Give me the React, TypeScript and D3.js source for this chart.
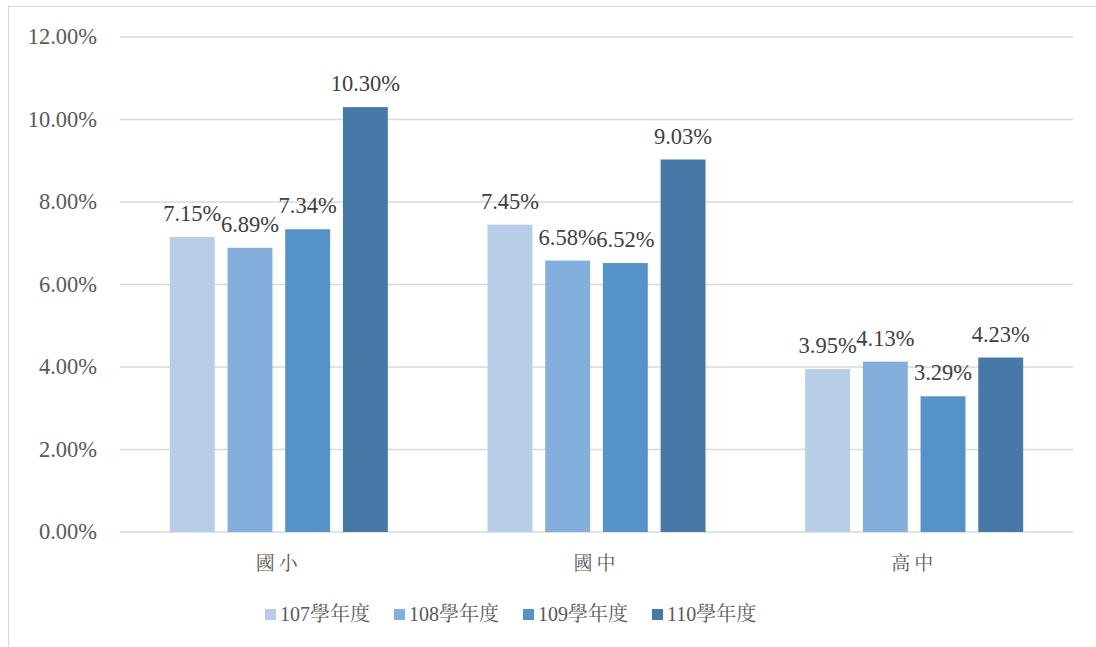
import React from "react";
import * as d3 from "d3";

const categories = ["國小", "國中", "高中"];
const seriesNames = ["107學年度", "108學年度", "109學年度", "110學年度"];
const values107 = [7.15, 7.45, 3.95];
const values108 = [6.89, 6.58, 4.13];
const values109 = [7.34, 6.52, 3.29];
const values110 = [10.3, 9.03, 4.23];
const yTicks = [0, 2, 4, 6, 8, 10, 12];
const colors = ["#B7CDE8", "#84AEDC", "#5592C8", "#4678A8"];

const seriesValues = [values107, values108, values109, values110];

const W = 1096;
const H = 647;
const margin = { left: 120, right: 23, top: 37, bottom: 115 };
const serif = "Liberation Serif, DejaVu Serif, serif";
const cjk = "Liberation Serif, Noto Serif CJK TC, Noto Sans CJK TC, serif";

export default function App() {
  const x0 = d3
    .scaleBand<string>()
    .domain(categories)
    .range([margin.left, W - margin.right])
    .paddingInner(0)
    .paddingOuter(0);
  const clusterW = 218;
  const x1 = d3
    .scaleBand<string>()
    .domain(seriesNames)
    .range([0, clusterW])
    .paddingInner(0.222)
    .paddingOuter(0);
  const y = d3.scaleLinear().domain([0, 12]).range([532, 37]);
  const fmt = (v: number) => v.toFixed(2) + "%";

  const legendX = [265, 394, 523, 652];

  return (
    <svg
      width={W}
      height={H}
      style={{ position: "absolute", left: 0, top: 0, background: "#fff" }}
    >
      <rect x={8.5} y={6.5} width={W + 10} height={H + 10} fill="#fff" stroke="#d9d9d9" strokeWidth={1} />
      {yTicks.map((t) => (
        <g key={t}>
          <line
            x1={margin.left}
            x2={W - margin.right}
            y1={y(t)}
            y2={y(t)}
            stroke="#d9d9d9"
            strokeWidth={1.3}
          />
          <text
            x={97}
            y={y(t)}
            dy="0.33em"
            textAnchor="end"
            style={{ fontFamily: serif, fontSize: 22.5 }}
            fill="#595959"
          >
            {t.toFixed(2) + "%"}
          </text>
        </g>
      ))}
      {categories.map((c, ci) => {
        const cx = (x0(c) as number) + x0.bandwidth() / 2;
        const start = cx - clusterW / 2;
        return (
          <g key={c}>
            {seriesNames.map((s, si) => {
              const v = seriesValues[si][ci];
              const bx = start + (x1(s) as number);
              return (
                <g key={s}>
                  <rect
                    x={bx}
                    y={y(v)}
                    width={x1.bandwidth()}
                    height={y(0) - y(v)}
                    fill={colors[si]}
                  />
                  <text
                    x={bx + x1.bandwidth() / 2}
                    y={y(v) - 16}
                    textAnchor="middle"
                    style={{ fontFamily: serif, fontSize: 22.5 }}
                    fill="#404040"
                  >
                    {fmt(v)}
                  </text>
                </g>
              );
            })}
            <text
              x={cx}
              y={563}
              dy="0.35em"
              textAnchor="middle"
              style={{ fontFamily: cjk, fontSize: 19, letterSpacing: 4 }}
              fill="#595959"
            >
              {c}
            </text>
          </g>
        );
      })}
      {seriesNames.map((s, si) => (
        <g key={s}>
          <rect x={legendX[si]} y={609} width={11} height={11} fill={colors[si]} />
          <text
            x={legendX[si] + 15}
            y={614}
            dy="0.35em"
            style={{ fontFamily: cjk, fontSize: 20 }}
            fill="#595959"
          >
            {s}
          </text>
        </g>
      ))}
    </svg>
  );
}
